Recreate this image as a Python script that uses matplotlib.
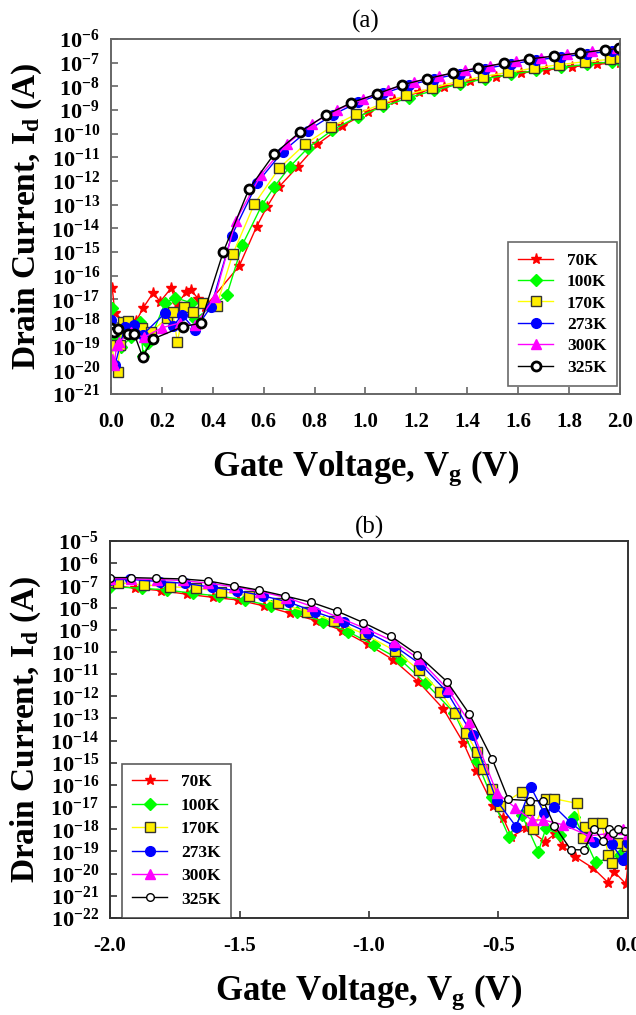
import numpy as np
import matplotlib
matplotlib.use("Agg")
import matplotlib.pyplot as plt
from matplotlib.ticker import LogLocator, LogFormatterSciNotation, NullLocator, MultipleLocator, FormatStrFormatter

plt.rcParams['font.family'] = 'Liberation Serif'
plt.rcParams['font.weight'] = 'bold'
plt.rcParams['mathtext.fontset'] = 'custom'
plt.rcParams['mathtext.rm'] = 'Liberation Serif:bold'
plt.rcParams['mathtext.it'] = 'Liberation Serif:bold'
plt.rcParams['mathtext.bf'] = 'Liberation Serif:bold'
plt.rcParams['mathtext.default'] = 'rm'
plt.rcParams['axes.unicode_minus'] = False

labels = ['70K', '100K', '170K', '273K', '300K', '325K']

# panel (a): positive gate voltage, log10 of drain current
a_v70 = [0.005, 0.015, 0.06, 0.10, 0.127, 0.166, 0.193, 0.236, 0.26, 0.295, 0.314, 0.343, 0.369, 0.504, 0.572,
         0.612, 0.661, 0.734, 0.811, 0.909, 1.011, 1.113, 1.211, 1.31, 1.41, 1.513, 1.61, 1.709, 1.81, 1.908, 2.0]
a_l70 = [-16.5, -17.59, -18.0, -17.9, -17.35, -16.72, -17.10, -16.53, -17.2, -16.70, -16.60, -16.98, -17.33, -15.59,
         -13.93, -13.11, -12.24, -11.39, -10.45, -9.68, -9.07, -8.58, -8.25, -8.01, -7.79, -7.59, -7.44, -7.32,
         -7.18, -7.07, -7.0]
a_v100 = [0.003, 0.02, 0.04, 0.08, 0.114, 0.127, 0.147, 0.212, 0.251, 0.314, 0.33, 0.455, 0.516, 0.592, 0.642,
          0.703, 0.775, 0.87, 0.97, 1.07, 1.17, 1.27, 1.37, 1.47, 1.57, 1.67, 1.77, 1.87, 1.97, 2.0]
a_l100 = [-17.38, -18.6, -19.0, -18.6, -17.94, -19.39, -18.86, -17.17, -16.93, -17.14, -17.84, -16.82, -14.70,
          -13.04, -12.24, -11.39, -10.59, -9.85, -9.28, -8.85, -8.48, -8.17, -7.9, -7.68, -7.5, -7.33, -7.2,
          -7.07, -6.96, -6.92]
a_v170 = [0.0, 0.026, 0.035, 0.048, 0.065, 0.12, 0.156, 0.221, 0.242, 0.261, 0.287, 0.321, 0.36, 0.415, 0.478,
          0.563, 0.661, 0.762, 0.863, 0.963, 1.062, 1.161, 1.262, 1.362, 1.46, 1.561, 1.662, 1.76, 1.861, 1.961, 2.0]
a_l170 = [-18.93, -20.06, -18.93, -17.94, -17.90, -18.22, -18.37, -17.80, -17.52, -18.81, -17.34, -17.52, -17.14,
          -17.28, -15.10, -12.98, -11.46, -10.45, -9.73, -9.18, -8.75, -8.37, -8.07, -7.80, -7.59, -7.41, -7.23,
          -7.09, -6.96, -6.86, -6.82]
a_v273 = [0.0, 0.0, 0.016, 0.055, 0.092, 0.124, 0.212, 0.245, 0.28, 0.33, 0.393, 0.474, 0.575, 0.675, 0.773,
          0.872, 0.97, 1.07, 1.17, 1.27, 1.37, 1.47, 1.57, 1.67, 1.77, 1.87, 1.97, 2.0]
a_l273 = [-17.87, -19.63, -19.77, -18.15, -18.08, -18.5, -17.59, -18.11, -17.66, -18.29, -17.31, -14.32, -12.07,
          -10.76, -9.87, -9.2, -8.68, -8.30, -7.95, -7.69, -7.46, -7.25, -7.06, -6.89, -6.76, -6.63, -6.51, -6.48]
a_v300 = [0.005, 0.013, 0.022, 0.03, 0.08, 0.13, 0.2, 0.27, 0.33, 0.409, 0.49, 0.589, 0.69, 0.789, 0.887, 0.99,
          1.09, 1.19, 1.29, 1.39, 1.49, 1.59, 1.69, 1.79, 1.89, 1.99]
a_l300 = [-19.5, -19.77, -18.93, -18.8, -18.4, -18.6, -18.2, -18.0, -18.1, -16.89, -13.68, -11.75, -10.45, -9.59,
          -9.0, -8.55, -8.15, -7.82, -7.57, -7.33, -7.13, -6.95, -6.79, -6.65, -6.52, -6.40]
a_v325 = [0.0, 0.01, 0.026, 0.065, 0.092, 0.124, 0.166, 0.282, 0.352, 0.441, 0.542, 0.641, 0.743, 0.845, 0.943,
          1.045, 1.143, 1.242, 1.344, 1.442, 1.544, 1.642, 1.741, 1.843, 1.941, 1.996]
a_l325 = [-18.2, -18.4, -18.26, -18.48, -18.48, -19.43, -18.67, -18.15, -18.01, -15.0, -12.34, -10.86, -9.93,
          -9.21, -8.70, -8.32, -7.94, -7.68, -7.43, -7.23, -7.02, -6.85, -6.72, -6.59, -6.46, -6.40]

# panel (b): negative gate voltage
b_v70 = [-2.0, -1.903, -1.803, -1.703, -1.604, -1.506, -1.405, -1.305, -1.205, -1.103, -1.005, -0.906, -0.81,
         -0.713, -0.636, -0.587, -0.52, -0.482, -0.45, -0.392, -0.32, -0.282, -0.253, -0.205, -0.134, -0.076,
         -0.054, -0.008, 0.0]
b_l70 = [-6.98, -7.13, -7.24, -7.40, -7.54, -7.66, -7.93, -8.26, -8.59, -9.04, -9.66, -10.36, -11.34, -12.57,
         -14.09, -15.37, -16.95, -17.5, -18.33, -17.95, -18.56, -18.21, -18.74, -19.23, -19.76, -20.41, -19.91,
         -20.46, -19.6]
b_v100 = [-2.0, -1.877, -1.78, -1.68, -1.581, -1.478, -1.379, -1.279, -1.179, -1.08, -0.98, -0.877, -0.781,
          -0.671, -0.584, -0.527, -0.46, -0.41, -0.346, -0.317, -0.263, -0.207, -0.125, -0.031, 0.0]
b_l100 = [-7.06, -7.13, -7.21, -7.36, -7.48, -7.66, -7.93, -8.2, -8.64, -9.09, -9.71, -10.37, -11.42, -12.74,
          -14.92, -16.53, -18.33, -17.35, -19.01, -17.95, -18.25, -17.43, -19.49, -19.16, -19.23]
b_v170 = [-2.0, -1.97, -1.869, -1.768, -1.668, -1.57, -1.463, -1.35, -1.238, -1.137, -1.015, -0.899, -0.807,
          -0.724, -0.668, -0.625, -0.584, -0.558, -0.527, -0.494, -0.41, -0.381, -0.365, -0.317, -0.286, -0.198,
          -0.172, -0.166, -0.134, -0.102, -0.076, -0.063, -0.04, -0.003]
b_l170 = [-6.83, -6.88, -6.98, -7.06, -7.13, -7.28, -7.48, -7.81, -8.19, -8.61, -9.21, -9.96, -10.82, -11.82,
          -12.77, -13.67, -14.5, -15.29, -16.2, -16.95, -16.30, -17.13, -18.0, -16.65, -16.62, -16.83, -18.4,
          -17.88, -17.70, -17.70, -19.16, -19.53, -18.6, -18.75]
b_v273 = [-2.0, -1.923, -1.807, -1.71, -1.606, -1.51, -1.41, -1.309, -1.21, -1.097, -1.003, -0.902, -0.8, -0.7,
          -0.6, -0.507, -0.432, -0.375, -0.323, -0.284, -0.221, -0.13, -0.063, -0.02, -0.005, 0.0]
b_l273 = [-6.75, -6.73, -6.83, -6.91, -7.09, -7.24, -7.47, -7.76, -8.19, -8.64, -9.13, -9.73, -10.57, -11.79,
          -13.75, -16.71, -17.88, -16.10, -17.28, -16.98, -17.70, -18.56, -18.66, -19.38, -19.23, -18.6]
b_v300 = [-2.0, -1.92, -1.82, -1.72, -1.62, -1.52, -1.42, -1.32, -1.22, -1.119, -1.015, -0.902, -0.807, -0.695,
          -0.614, -0.507, -0.436, -0.372, -0.327, -0.25, -0.15, -0.08, -0.02, 0.0]
b_l300 = [-6.7, -6.70, -6.74, -6.78, -6.9, -7.07, -7.28, -7.55, -7.95, -8.44, -8.94, -9.54, -10.33, -11.69,
          -13.15, -16.35, -17.02, -17.58, -17.58, -17.8, -18.3, -18.2, -18.0, -18.2]
b_v325 = [-2.0, -1.919, -1.822, -1.722, -1.622, -1.523, -1.423, -1.324, -1.224, -1.122, -1.022, -0.917, -0.813,
          -0.699, -0.612, -0.524, -0.462, -0.378, -0.327, -0.284, -0.221, -0.17, -0.13, -0.098, -0.072, -0.057,
          -0.037, -0.012]
b_l325 = [-6.65, -6.65, -6.68, -6.71, -6.80, -7.01, -7.22, -7.48, -7.76, -8.17, -8.68, -9.28, -10.12, -11.34,
          -12.81, -14.84, -16.65, -16.71, -16.72, -17.84, -18.92, -18.93, -18.0, -18.51, -18.0, -18.18, -18.0,
          -18.1]

panel_a = [(a_v70, a_l70), (a_v100, a_l100), (a_v170, a_l170), (a_v273, a_l273), (a_v300, a_l300), (a_v325, a_l325)]
panel_b = [(b_v70, b_l70), (b_v100, b_l100), (b_v170, b_l170), (b_v273, b_l273), (b_v300, b_l300), (b_v325, b_l325)]

styles = [
    dict(color='#ff0000', marker='*', ms=8, mfc='#ff0000', mec='#ff0000'),
    dict(color='#00ff00', marker='D', ms=6, mfc='#00ff00', mec='#00ff00'),
    dict(color='#ffff00', marker='s', ms=7, mfc='#ffee00', mec='#333333', mew=1.0),
    dict(color='#0000ff', marker='o', ms=7, mfc='#0000ff', mec='#0000ff'),
    dict(color='#ff00ff', marker='^', ms=7, mfc='#ff00ff', mec='#ff00ff'),
    dict(color='#000000', marker='o', ms=6.5, mfc='white', mec='black', mew=2.0),
]

fig = plt.figure(figsize=(6.36, 10.15), dpi=100)
ax1 = fig.add_axes([0.1745, 0.6118, 0.8003, 0.3498])
ax2 = fig.add_axes([0.173, 0.0956, 0.8144, 0.3714])


def setup(ax, spine_col):
    ax.set_yscale('log')
    ax.yaxis.set_major_locator(LogLocator(base=10, numticks=40))
    ax.yaxis.set_major_formatter(LogFormatterSciNotation())
    ax.yaxis.set_minor_locator(NullLocator())
    ax.xaxis.set_major_formatter(FormatStrFormatter('%.1f'))
    for s in ax.spines.values():
        s.set_color(spine_col)
        s.set_linewidth(1.4)
    ax.tick_params(axis='both', direction='in', length=5, width=1.2, color=spine_col,
                   top=False, right=False)
    ax.tick_params(axis='x', pad=13, labelsize=15)
    ax.tick_params(axis='y', pad=8, labelsize=16)
    ax.set_ylabel(r'Drain Current, I$_{\rm d}$ (A)', fontsize=24, fontweight='bold', labelpad=5)
    ax.set_xlabel(r'Gate Voltage, V$_{\rm g}$ (V)', fontsize=25, fontweight='bold', labelpad=12)


for ax, data in [(ax1, panel_a), (ax2, panel_b)]:
    for (v, l), lab, st in zip(data, labels, styles):
        ax.plot(v, 10.0 ** np.array(l), lw=1.0, label=lab, **st)

legend_kw = dict(borderaxespad=0, fancybox=False, fontsize=12.5, handlelength=2.0,
                 borderpad=0.6, handletextpad=0.8)

setup(ax1, '#666666')
ax1.set_xlim(0.0, 2.0)
ax1.set_ylim(1e-21, 1e-6)
ax1.xaxis.set_major_locator(MultipleLocator(0.2))
ax1.set_title('(a)', fontsize=18, fontweight='normal', pad=8)
leg1 = ax1.legend(loc='lower right', bbox_to_anchor=(0.994, 0.0225), edgecolor='#444444',
                  labelspacing=0.3, **legend_kw)
leg1.get_frame().set_linewidth(1.2)

setup(ax2, '#333333')
ax2.set_xlim(-2.0, 0.0)
ax2.set_ylim(1e-22, 1e-5)
ax2.xaxis.set_major_locator(MultipleLocator(0.5))
ax2.set_title('(b)', fontsize=18, fontweight='normal', pad=5)
leg2 = ax2.legend(loc='lower left', bbox_to_anchor=(0.023, 0.0), edgecolor='#333333',
                  labelspacing=0.42, **legend_kw)
leg2.get_frame().set_linewidth(1.2)
# thinner open circles in the lower panel
for line in ax2.get_lines()[5:6]:
    line.set_markersize(5.5)
    line.set_markeredgewidth(1.0)
for h in leg2.legend_handles[5:6]:
    h.set_markersize(5.5)
    h.set_markeredgewidth(1.0)

fig.savefig('out.png', dpi=100)
